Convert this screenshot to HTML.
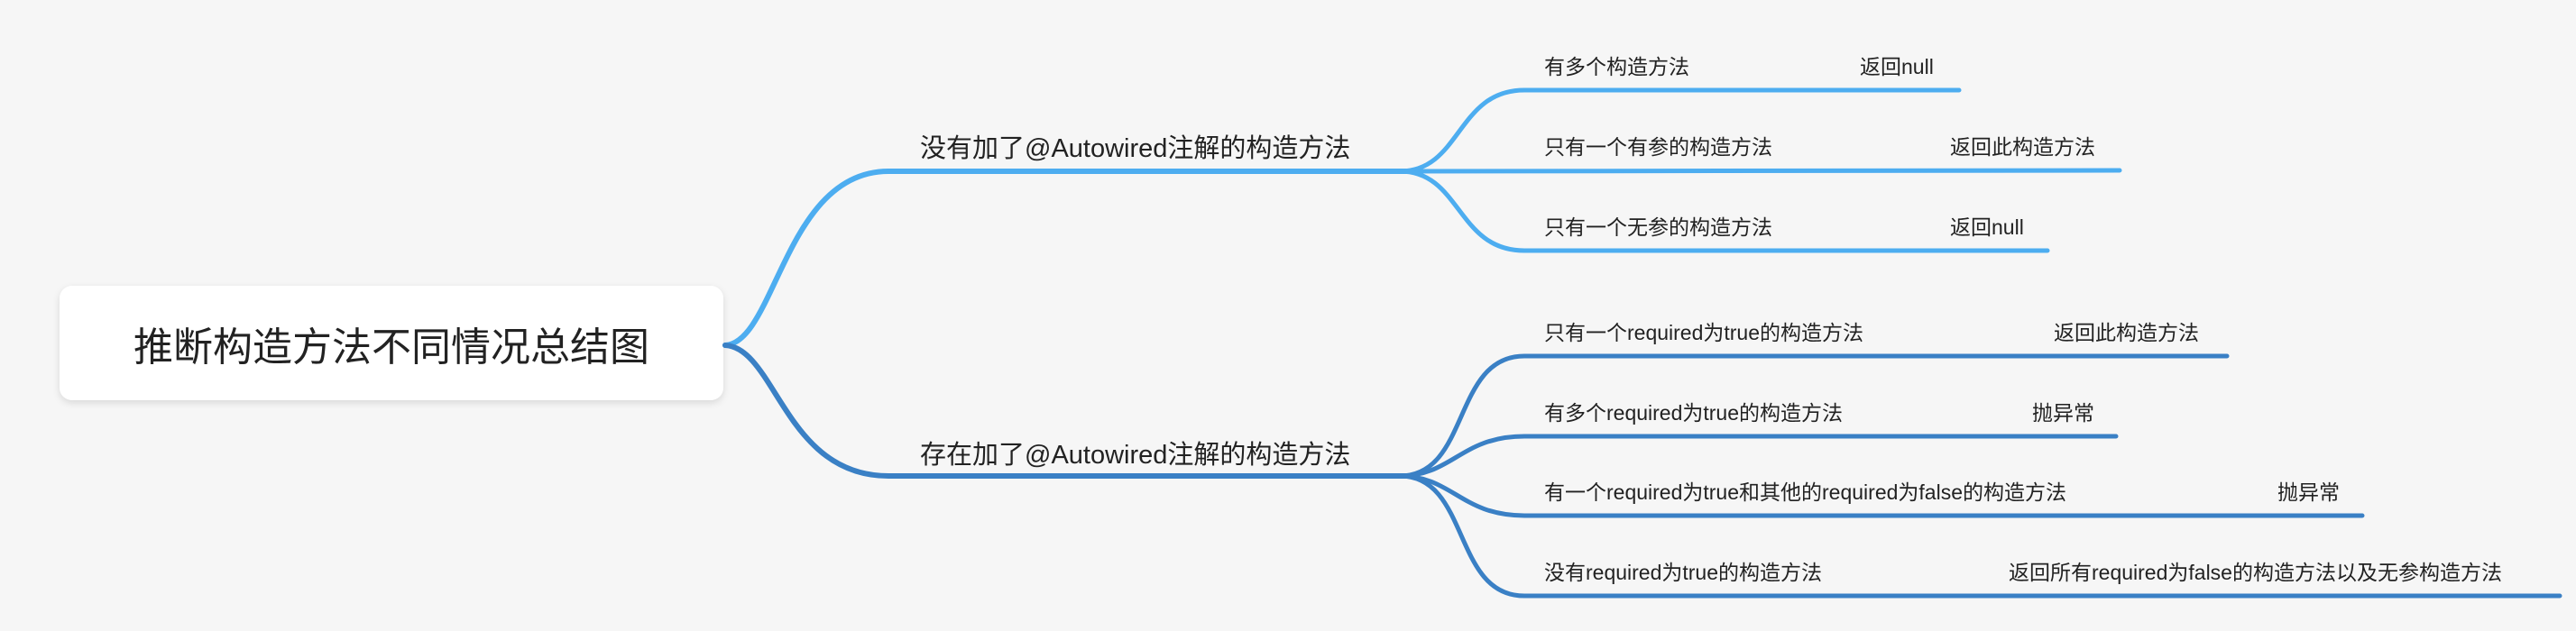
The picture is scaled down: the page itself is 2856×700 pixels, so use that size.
<!DOCTYPE html>
<html><head><meta charset="utf-8"><style>
html,body{margin:0;padding:0;background:#f6f6f6;}
svg{display:block;}
text{font-family:"Liberation Sans","Noto Sans CJK SC",sans-serif;fill:#222;}
</style></head><body>
<svg width="2856" height="700" viewBox="0 0 2856 700" xmlns="http://www.w3.org/2000/svg">
<defs><filter id="sh" x="-10%" y="-20%" width="120%" height="150%"><feDropShadow dx="0" dy="3" stdDeviation="4" flood-color="#000" flood-opacity="0.12"/></filter></defs>
<rect x="66" y="317" width="736" height="127" rx="14" fill="#fff" filter="url(#sh)"/>
<text x="434" y="400" font-size="44" text-anchor="middle" fill="#333">推断构造方法不同情况总结图</text>
<g fill="none" stroke-linecap="round">
<path d="M804,383 C860,380 870,190 985,190 L1560,190" stroke="#4dadf0" stroke-width="6"/>
<path d="M804,383 C860,386 870,528 985,528 L1560,528" stroke="#3a80c5" stroke-width="6"/>
<g stroke="#4dadf0" stroke-width="5">
<path d="M1552,190 C1620,190 1615,100 1690,100 L2172,100"/>
<path d="M1552,190 L2350,189"/>
<path d="M1552,190 C1620,190 1615,278 1690,278 L2270,278"/>
</g>
<g stroke="#3a80c5" stroke-width="5">
<path d="M1552,528 C1630,528 1610,395 1690,395 L2469,395"/>
<path d="M1552,528 C1610,528 1620,484 1690,484 L2346,484"/>
<path d="M1552,528 C1610,528 1620,572 1690,572 L2619,572"/>
<path d="M1552,528 C1630,528 1610,661 1690,661 L2838,661"/>
</g>
</g>
<text x="1020" y="174" font-size="29">没有加了@Autowired注解的构造方法</text>
<text x="1020" y="514" font-size="29">存在加了@Autowired注解的构造方法</text>
<g font-size="23">
<text x="1712" y="82">有多个构造方法</text><text x="2062" y="82">返回null</text>
<text x="1712" y="171">只有一个有参的构造方法</text><text x="2162" y="171">返回此构造方法</text>
<text x="1712" y="260">只有一个无参的构造方法</text><text x="2162" y="260">返回null</text>
<text x="1712" y="377">只有一个required为true的构造方法</text><text x="2277" y="377">返回此构造方法</text>
<text x="1712" y="466">有多个required为true的构造方法</text><text x="2253" y="466">抛异常</text>
<text x="1712" y="554">有一个required为true和其他的required为false的构造方法</text><text x="2525" y="554">抛异常</text>
<text x="1712" y="643">没有required为true的构造方法</text><text x="2227" y="643">返回所有required为false的构造方法以及无参构造方法</text>
</g>
</svg>
</body></html>
